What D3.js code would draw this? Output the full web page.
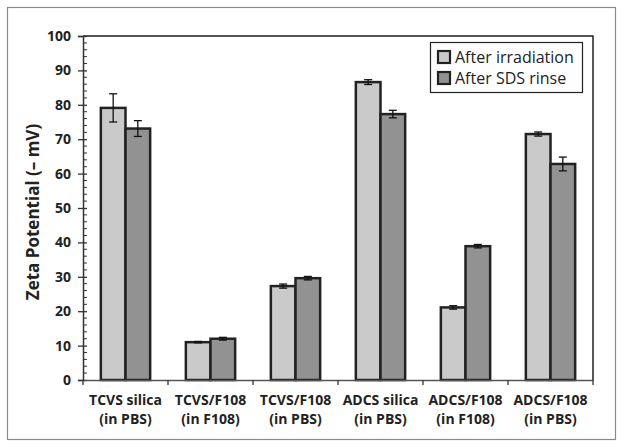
<!DOCTYPE html>
<html lang="en">
  <head>
    <meta charset="UTF-8" />
    <title>Zeta potential</title>
    <script src="https://d3js.org/d3.v7.min.js"></script>
    <style>
      body { margin: 0; background: #fff; }
      svg { display: block; }
      .tick text { font-family: "Open Sans", sans-serif; font-weight: bold; font-size: 14px; fill: #222; }
      .legend text { font-family: "Open Sans", sans-serif; font-size: 16px; fill: #222; }
    </style>
  </head>
  <body>
    <svg id="chart" width="624" height="447"></svg>
    <script>
      // data
      const categories = [
        ["TCVS silica", "(in PBS)"],
        ["TCVS/F108", "(in F108)"],
        ["TCVS/F108", "(in PBS)"],
        ["ADCS silica", "(in PBS)"],
        ["ADCS/F108", "(in F108)"],
        ["ADCS/F108", "(in PBS)"]
      ];
      const seriesNames = ["After irradiation", "After SDS rinse"];
      const irradiation = [79.1, 11.0, 27.3, 86.6, 21.1, 71.5];
      const irradiationErr = [4.1, 0.2, 0.6, 0.7, 0.5, 0.6];
      const sdsRinse = [73.1, 12.0, 29.6, 77.3, 38.9, 62.8];
      const sdsRinseErr = [2.3, 0.4, 0.5, 1.1, 0.5, 2.0];
      const yTicks = [0, 10, 20, 30, 40, 50, 60, 70, 80, 90, 100];

      const width = 624, height = 447;
      const margin = { top: 36, right: 31, bottom: 67, left: 83 };
      const colors = ["#cacaca", "#929292"];

      const svg = d3.select("#chart");

      // outer frame
      svg.append("rect")
        .attr("x", 7.5).attr("y", 7.5)
        .attr("width", 608).attr("height", 432)
        .attr("fill", "none").attr("stroke", "#8a8a8a").attr("stroke-width", 1.2);

      const x0 = d3.scaleBand()
        .domain(d3.range(categories.length))
        .range([margin.left, width - margin.right]);
      const bw = x0.bandwidth();
      const x1 = d3.scaleBand()
        .domain([0, 1])
        .range([bw * 0.21, bw * 0.79]);
      const y = d3.scaleLinear()
        .domain([0, 100])
        .range([height - margin.bottom, margin.top]);

      // plot border (top + right)
      svg.append("path")
        .attr("d", `M${margin.left},${margin.top}H${width - margin.right}V${height - margin.bottom}`)
        .attr("fill", "none").attr("stroke", "#222").attr("stroke-width", 1.5);

      const series = [
        { vals: irradiation, errs: irradiationErr },
        { vals: sdsRinse, errs: sdsRinseErr }
      ];

      const groups = svg.append("g").selectAll("g")
        .data(categories.map((c, i) => i))
        .join("g")
        .attr("transform", i => `translate(${x0(i)},0)`);

      groups.selectAll("rect")
        .data(i => series.map((s, k) => ({ k, v: s.vals[i] })))
        .join("rect")
        .attr("x", d => x1(d.k))
        .attr("y", d => y(d.v))
        .attr("width", x1.bandwidth())
        .attr("height", d => y(0) - y(d.v))
        .attr("fill", d => colors[d.k])
        .attr("stroke", "#222")
        .attr("stroke-width", 2.5);

      // error bars
      const eb = groups.selectAll("g.err")
        .data(i => series.map((s, k) => ({ k, v: s.vals[i], e: s.errs[i] })))
        .join("g")
        .attr("class", "err")
        .attr("stroke", "#111")
        .attr("stroke-width", 1.3);
      const cx = d => x1(d.k) + x1.bandwidth() / 2;
      eb.append("line")
        .attr("x1", cx).attr("x2", cx)
        .attr("y1", d => y(d.v + d.e)).attr("y2", d => y(d.v - d.e));
      eb.append("line")
        .attr("x1", d => cx(d) - 4).attr("x2", d => cx(d) + 4)
        .attr("y1", d => y(d.v + d.e)).attr("y2", d => y(d.v + d.e));
      eb.append("line")
        .attr("x1", d => cx(d) - 4).attr("x2", d => cx(d) + 4)
        .attr("y1", d => y(d.v - d.e)).attr("y2", d => y(d.v - d.e));

      // y axis
      const yAxis = svg.append("g")
        .attr("transform", `translate(${margin.left},0)`)
        .call(d3.axisLeft(y).tickValues(yTicks).tickSize(5).tickPadding(6));
      yAxis.select(".domain").attr("stroke", "#333").attr("stroke-width", 1.5);
      yAxis.selectAll(".tick line").attr("stroke", "#333").attr("stroke-width", 1.3).attr("x2", 4).attr("x1", -5);
      yAxis.selectAll(".tick text").attr("x", -12);

      // minor ticks every 2
      svg.append("g")
        .selectAll("line")
        .data(d3.range(0, 101, 2).filter(v => v % 10 !== 0))
        .join("line")
        .attr("x1", margin.left).attr("x2", margin.left + 4)
        .attr("y1", d => y(d)).attr("y2", d => y(d))
        .attr("stroke", "#333").attr("stroke-width", 1);

      // x axis
      const xAxis = svg.append("g")
        .attr("transform", `translate(0,${y(0)})`)
        .call(d3.axisBottom(x0).tickSize(0).tickFormat(""));
      xAxis.select(".domain").attr("stroke", "#555").attr("stroke-width", 1.5);
      xAxis.selectAll(".tick").remove();

      svg.append("g")
        .selectAll("line")
        .data(d3.range(categories.length + 1))
        .join("line")
        .attr("x1", i => margin.left + i * bw).attr("x2", i => margin.left + i * bw)
        .attr("y1", y(0)).attr("y2", y(0) + 5)
        .attr("stroke", "#333").attr("stroke-width", 1.3);

      const xl = svg.append("g").attr("class", "tick")
        .selectAll("text")
        .data(categories)
        .join("text")
        .attr("text-anchor", "middle")
        .attr("transform", (d, i) => `translate(${x0(i) + bw / 2},0)`);
      xl.append("tspan").attr("x", 0).attr("y", 405).text(d => d[0]);
      xl.append("tspan").attr("x", 0).attr("y", 424).text(d => d[1]);

      // y title
      svg.append("text")
        .attr("transform", "translate(39,212) rotate(-90)")
        .attr("text-anchor", "middle")
        .style("font-family", "'Open Sans', sans-serif")
        .style("font-weight", "bold")
        .style("font-size", "17px")
        .style("fill", "#222")
        .text("Zeta Potential (\u2013 mV)");

      // legend
      const lg = svg.append("g").attr("class", "legend");
      lg.append("rect")
        .attr("x", 430.5).attr("y", 42.5).attr("width", 152).attr("height", 50)
        .attr("fill", "#fff").attr("stroke", "#222").attr("stroke-width", 1.2);
      const li = lg.selectAll("g.item")
        .data(seriesNames)
        .join("g")
        .attr("class", "item")
        .attr("transform", (d, i) => `translate(438,${51 + i * 21})`);
      li.append("rect")
        .attr("width", 12).attr("height", 12)
        .attr("fill", (d, i) => colors[i])
        .attr("stroke", "#222").attr("stroke-width", 2.2);
      li.append("text")
        .attr("x", 17).attr("y", 12)
        .text(d => d);
    </script>
  </body>
</html>
